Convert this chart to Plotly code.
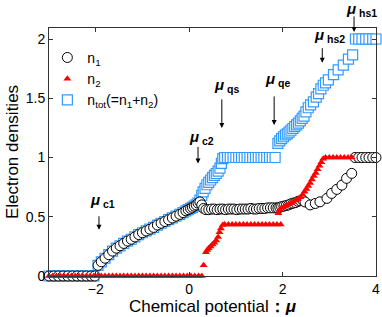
import plotly.graph_objects as go

# ---------------- data ----------------
MU1 = [-3.0, -2.9, -2.8, -2.7, -2.6, -2.5, -2.4, -2.3, -2.2, -2.1, -2.02,
       -1.95, -1.88, -1.8, -1.72, -1.64, -1.56, -1.48, -1.4, -1.32, -1.24, -1.16, -1.08,
       -1.0, -0.92, -0.84, -0.76, -0.68, -0.6, -0.52, -0.44, -0.36, -0.28, -0.2, -0.13,
       -0.07, -0.02, 0.03, 0.07, 0.11, 0.15, 0.19, 0.23, 0.27, 0.31, 0.36,
       0.42, 0.48, 0.54, 0.6, 0.66, 0.72, 0.78, 0.84, 0.9, 0.96, 1.02, 1.08, 1.14, 1.2,
       1.26, 1.32, 1.38, 1.44, 1.5, 1.56, 1.62, 1.68, 1.74, 1.8, 1.86,
       1.9, 1.94, 1.98, 2.03, 2.08, 2.13, 2.18, 2.23, 2.28, 2.33, 2.38, 2.43, 2.48,
       2.59, 2.7, 2.8, 2.95, 3.05, 3.16, 3.27, 3.37, 3.48,
       3.55, 3.63, 3.7, 3.78, 3.85, 3.93, 4.0]
N1 = [0, 0, 0, 0, 0, 0, 0, 0, 0, 0, 0,
      0.09, 0.12, 0.15, 0.18, 0.21, 0.235, 0.255, 0.275, 0.295, 0.31, 0.33, 0.35,
      0.365, 0.38, 0.395, 0.41, 0.43, 0.445, 0.46, 0.475, 0.49, 0.505, 0.52, 0.535,
      0.55, 0.56, 0.57, 0.58, 0.59, 0.6, 0.615, 0.625, 0.6, 0.57, 0.56,
      0.56, 0.565, 0.565, 0.56, 0.565, 0.565, 0.56, 0.565, 0.565, 0.565, 0.56, 0.565,
      0.565, 0.565, 0.565, 0.57, 0.565, 0.565, 0.57, 0.57, 0.57, 0.575, 0.575, 0.575, 0.575,
      0.575, 0.58, 0.585, 0.59, 0.595, 0.6, 0.61, 0.615, 0.62, 0.63, 0.635, 0.64, 0.625,
      0.6, 0.612, 0.626, 0.655, 0.697, 0.731, 0.767, 0.824, 0.866,
      1.0, 1.0, 1.0, 1.0, 1.0, 1.0, 1.0]

MU2 = [-3.0, -2.92, -2.84, -2.76, -2.68, -2.6, -2.52, -2.44, -2.36, -2.28, -2.2, -2.12,
       -2.04, -1.96, -1.88, -1.8, -1.72, -1.64, -1.56, -1.48, -1.4, -1.32, -1.24, -1.16,
       -1.08, -1.0, -0.92, -0.84, -0.76, -0.68, -0.6, -0.52, -0.44, -0.36, -0.28, -0.2,
       -0.12, -0.04, 0.04, 0.12, 0.2, 0.27,
       0.31, 0.36, 0.39, 0.42, 0.46, 0.5, 0.54, 0.58, 0.62, 0.65, 0.68, 0.72,
       0.76, 0.84, 0.92, 1.0, 1.08, 1.16, 1.24, 1.32, 1.4, 1.48, 1.56, 1.64, 1.72, 1.8,
       1.88, 1.96,
       1.91, 1.94, 1.98, 2.03, 2.08, 2.13, 2.18, 2.23, 2.28, 2.33, 2.38, 2.43, 2.47,
       2.51, 2.55, 2.59, 2.63, 2.67, 2.71, 2.75, 2.79, 2.83, 2.87, 2.92,
       3.0, 3.08, 3.16, 3.24, 3.32, 3.4, 3.48]
N2 = [0, 0, 0, 0, 0, 0, 0, 0, 0, 0, 0, 0,
      0, 0, 0, 0, 0, 0, 0, 0, 0, 0, 0, 0,
      0, 0, 0, 0, 0, 0, 0, 0, 0, 0, 0, 0,
      0, 0, 0, 0, 0, 0,
      0.09, 0.2, 0.22, 0.235, 0.25, 0.265, 0.28, 0.3, 0.33, 0.37, 0.4, 0.43,
      0.435, 0.435, 0.435, 0.435, 0.435, 0.435, 0.435, 0.435, 0.435, 0.435, 0.435, 0.435,
      0.435, 0.435, 0.435, 0.435,
      0.53, 0.56, 0.575, 0.585, 0.595, 0.605, 0.615, 0.625, 0.64, 0.65, 0.665, 0.685, 0.71,
      0.735, 0.76, 0.785, 0.815, 0.845, 0.87, 0.9, 0.93, 0.96, 0.99, 1.0,
      1.0, 1.0, 1.0, 1.0, 1.0, 1.0, 1.0]

MU3 = [-3.0, -2.92, -2.84, -2.76, -2.68, -2.6, -2.52, -2.44, -2.36, -2.28, -2.2, -2.12, -2.04,
       -1.95, -1.88, -1.8, -1.72, -1.64, -1.56, -1.48, -1.4, -1.32, -1.24, -1.16, -1.08,
       -1.0, -0.92, -0.84, -0.76, -0.68, -0.6, -0.52, -0.44, -0.36, -0.28, -0.2, -0.13,
       -0.07, -0.02, 0.03, 0.07, 0.11, 0.15, 0.19,
       0.23, 0.27, 0.3, 0.34, 0.38, 0.42, 0.46, 0.5, 0.54, 0.58, 0.62, 0.66, 0.69, 0.72,
       0.76, 0.82, 0.88, 0.94, 1.0, 1.06, 1.12, 1.18, 1.24, 1.3, 1.36, 1.42, 1.48, 1.54,
       1.6, 1.66, 1.72, 1.78, 1.84,
       1.9, 1.94, 1.98, 2.02, 2.06, 2.1, 2.14, 2.18, 2.22, 2.26, 2.3, 2.34, 2.38, 2.42,
       2.46, 2.5, 2.55, 2.6, 2.66, 2.72, 2.77, 2.82, 2.87, 2.92, 2.98, 3.09, 3.19, 3.3,
       3.41, 3.5,
       3.56, 3.63, 3.7, 3.78, 3.85, 3.93, 4.0]
NTOT = [0, 0, 0, 0, 0, 0, 0, 0, 0, 0, 0, 0, 0,
        0.09, 0.12, 0.15, 0.18, 0.21, 0.235, 0.255, 0.275, 0.295, 0.31, 0.33, 0.35,
        0.365, 0.38, 0.395, 0.41, 0.43, 0.445, 0.46, 0.475, 0.49, 0.505, 0.52, 0.535,
        0.55, 0.56, 0.57, 0.58, 0.59, 0.6, 0.615,
        0.64, 0.68, 0.71, 0.74, 0.77, 0.79, 0.81, 0.83, 0.85, 0.865, 0.885, 0.91, 0.95, 0.99,
        1.0, 1.0, 1.0, 1.0, 1.0, 1.0, 1.0, 1.0, 1.0, 1.0, 1.0, 1.0, 1.0, 1.0,
        1.0, 1.0, 1.0, 1.0, 1.0,
        1.12, 1.14, 1.16, 1.175, 1.19, 1.2, 1.215, 1.23, 1.245, 1.26, 1.275, 1.29, 1.31, 1.33,
        1.35, 1.385, 1.42, 1.445, 1.47, 1.51, 1.54, 1.58, 1.61, 1.63, 1.656, 1.70, 1.74, 1.78,
        1.83, 1.867,
        2.0, 2.0, 2.0, 2.0, 2.0, 2.0, 2.0]

X_TICKS = [-2, 0, 2, 4]
Y_TICKS = [0, 0.5, 1, 1.5, 2]
Y_TICK_TEXT = ["0", "0.5", "1", "1.5", "2"]

# annotation markers: (subscript, arrow tip mu, arrow tip n, arrow length px, label x, label y)
MARK_NAMES = ["c1", "c2", "qs", "qe", "hs2", "hs1"]
MARK_MU = [-1.93, 0.19, 0.70, 1.82, 2.85, 3.53]
MARK_N = [0.39, 0.95, 1.25, 1.275, 1.80, 2.06]
MARK_LEN = [15, 18, 30, 30, 16, 17]
LABEL_MU = [-2.17, -0.05, 0.48, 1.58, 2.63, 3.31]
LABEL_N = [0.64, 1.17, 1.61, 1.66, 2.03, 2.245]

X_RANGE = [-3, 4]
Y_RANGE = [0, 2.093]

FONT = "Liberation Sans, Arial, Helvetica, sans-serif"
BLUE = "#3399ff"
RED = "#ff0000"

fig = go.Figure()
fig.add_trace(go.Scatter(
    x=MU3, y=NTOT, mode="markers", name="n<sub>tot</sub>(=n<sub>1</sub>+n<sub>2</sub>)",
    legendrank=3, cliponaxis=False,
    marker=dict(symbol="square", size=10, color="white", line=dict(color=BLUE, width=1.2))))
fig.add_trace(go.Scatter(
    x=MU1, y=N1, mode="markers", name="n<sub>1</sub>", legendrank=1, cliponaxis=False,
    marker=dict(symbol="circle", size=10, color="white", line=dict(color="black", width=1))))
fig.add_trace(go.Scatter(
    x=MU2, y=N2, mode="markers", name="n<sub>2</sub>", legendrank=2, cliponaxis=False,
    marker=dict(symbol="triangle-up", size=7, color=RED, line=dict(width=0))))

annotations = []
for name, mx, my, ln, lx, ly in zip(MARK_NAMES, MARK_MU, MARK_N, MARK_LEN, LABEL_MU, LABEL_N):
    annotations.append(dict(
        x=mx, y=my, xref="x", yref="y", text="", showarrow=True,
        ax=0, ay=-ln, arrowhead=2, arrowsize=1, arrowwidth=1, arrowcolor="black",
        standoff=0, startstandoff=0))
    annotations.append(dict(
        x=(lx - X_RANGE[0]) / (X_RANGE[1] - X_RANGE[0]),
        y=(ly - Y_RANGE[0]) / (Y_RANGE[1] - Y_RANGE[0]),
        xref="paper", yref="paper", showarrow=False, xanchor="left", yanchor="middle",
        text="<b><i>μ</i></b><b><sub>&nbsp;" + name + "</sub></b>",
        font=dict(family=FONT, size=15, color="black")))

fig.update_layout(
    width=382, height=317,
    margin=dict(l=49, r=6, t=28, b=41, autoexpand=False),
    paper_bgcolor="white", plot_bgcolor="white",
    font=dict(family=FONT, color="black"),
    showlegend=True,
    legend=dict(x=-0.005, y=0.944, xanchor="left", yanchor="top", bgcolor="rgba(0,0,0,0)",
                font=dict(family=FONT, size=14, color="black"), tracegroupgap=0),
    annotations=annotations,
)
axis_common = dict(showline=True, linecolor="#333333", linewidth=1, mirror="ticks",
                   ticks="inside", ticklen=4, tickcolor="#333333", showgrid=False,
                   zeroline=False, automargin=False,
                   tickfont=dict(family=FONT, size=14, color="black"))
fig.update_xaxes(range=X_RANGE, tickvals=X_TICKS,
                 title=dict(text="Chemical potential<b>：</b><b><i>μ</i></b>",
                            font=dict(family=FONT, size=17), standoff=2),
                 **axis_common)
fig.update_yaxes(range=Y_RANGE, tickvals=Y_TICKS, ticktext=Y_TICK_TEXT,
                 title=dict(text="Electron densities", font=dict(family=FONT, size=17),
                            standoff=2),
                 **axis_common)

fig.write_html("out.html", config={"displayModeBar": False},
               post_script="document.body.style.margin='0px';document.body.style.padding='0px';")
